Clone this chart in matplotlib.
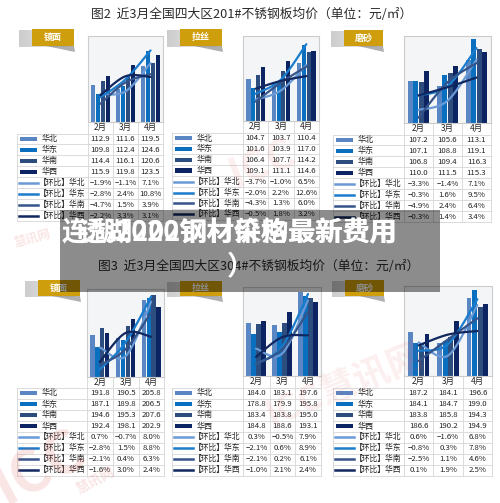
import numpy as np
import matplotlib.pyplot as plt
from matplotlib.patches import Rectangle, Polygon

plt.rcParams['font.family'] = ['Noto Sans CJK SC', 'DejaVu Sans']

W, H = 500, 503

months = ['2月', '3月', '4月']
regions = ['华北', '华东', '华南', '华西']
finishes = ['镜面', '拉丝', '磨砂']

# 201# 均价 (元/㎡): rows = 华北/华东/华南/华西, cols = 2月/3月/4月
p201_jm = [[112.9, 111.6, 119.5], [109.8, 112.4, 124.6], [114.4, 116.1, 120.6], [115.9, 119.8, 123.5]]
p201_ls = [[104.7, 103.7, 110.4], [101.6, 103.9, 117.0], [106.4, 107.7, 114.2], [109.1, 111.1, 114.6]]
p201_ms = [[107.2, 105.6, 113.1], [107.1, 108.8, 119.1], [106.8, 109.4, 116.3], [110.0, 111.5, 115.3]]
# 201# 环比 (%)
c201_jm = [[-1.9, -1.1, 7.1], [-2.8, 2.4, 10.8], [-4.7, 1.5, 3.9], [-2.2, 3.3, 3.1]]
c201_ls = [[-3.7, -1.0, 6.5], [-2.0, 2.2, 12.6], [-4.3, 1.3, 6.0], [-0.5, 1.8, 3.2]]
c201_ms = [[-3.3, -1.4, 7.1], [-0.3, 1.6, 9.5], [-4.9, 2.4, 6.4], [-0.3, 1.4, 3.4]]
# 304# 均价
p304_jm = [[191.8, 190.5, 205.8], [187.1, 189.8, 206.5], [194.6, 195.3, 207.6], [192.4, 198.1, 202.9]]
p304_ls = [[184.0, 183.1, 197.6], [178.8, 179.9, 195.8], [183.4, 183.8, 195.0], [184.8, 188.6, 193.1]]
p304_ms = [[187.2, 184.1, 196.6], [184.1, 184.7, 199.0], [183.8, 185.8, 194.3], [186.6, 190.2, 194.9]]
# 304# 环比
c304_jm = [[0.7, -0.7, 8.0], [-2.8, 1.5, 8.8], [-2.1, 0.4, 6.3], [-1.6, 3.0, 2.4]]
c304_ls = [[0.3, -0.5, 7.9], [-2.1, 0.6, 8.9], [-2.1, 0.2, 6.1], [-1.0, 2.1, 2.4]]
c304_ms = [[0.6, -1.6, 6.8], [-0.8, 0.3, 7.8], [-2.5, 1.1, 4.6], [0.1, 1.9, 2.5]]

title2 = '图2  近3月全国四大区201#不锈钢板均价（单位：元/㎡）'
title3 = '图3  近3月全国四大区304#不锈钢板均价（单位：元/㎡）'

bar_colors = ['#5a86c4', '#0b6fc0', '#2d4d7e', '#0c2461']
line_colors = ['#6a9ad6', '#1a7ccc', '#34548a', '#11275f']
grid_c = '#d6d6d6'
gold = '#cf9e0c'

fig = plt.figure(figsize=(5, 5.03), dpi=100)
bg = fig.add_axes([0, 0, 1, 1])
bg.set_xlim(0, W)
bg.set_ylim(H, 0)
bg.axis('off')


def fig_rect(x0, y0, x1, y1):
    return [x0 / W, 1 - y1 / H, (x1 - x0) / W, (y1 - y0) / H]


def smooth(xs, ys, n=30):
    """Catmull-Rom style bezier through the points (like excel smoothed lines)."""
    P = np.column_stack([xs, ys]).astype(float)
    ext = np.vstack([P[0], P, P[-1]])
    out = []
    for i in range(len(P) - 1):
        p0, p3 = ext[i + 1], ext[i + 2]
        p1 = p0 + (ext[i + 2] - ext[i]) / 6.0
        p2 = p3 - (ext[i + 3] - ext[i + 1]) / 6.0
        t = np.linspace(0, 1, n)[:, None]
        seg = (1 - t)**3 * p0 + 3 * (1 - t)**2 * t * p1 + 3 * (1 - t) * t**2 * p2 + t**3 * p3
        out.append(seg if i == 0 else seg[1:])
    out = np.vstack(out)
    return out[:, 0], out[:, 1]


def fmt_pct(v):
    s = '%.1f%%' % v
    return s.replace('-', '−')


def draw_panel(geo, prices, changes, ylim_p, ylim_c, label):
    x0, y0, x1, y1 = geo['plot']
    ax = fig.add_axes(fig_rect(x0, y0, x1, y1))
    ax.set_facecolor('#f4f5f7')
    x = np.arange(len(months))
    for j in range(len(regions)):
        ax.bar(x + (j - 1.5) * 0.19, prices[j], width=0.165, color=bar_colors[j], zorder=2)
    ax.set_xlim(-0.5, 2.5)
    ax.set_ylim(*ylim_p)
    ax.set_xticks([])
    ax.set_yticks([])
    for s in ax.spines.values():
        s.set_color('#cccccc')
        s.set_linewidth(0.8)
    ax2 = ax.twinx()
    for j in range(len(regions)):
        sx, sy = smooth(x, changes[j])
        ax2.plot(sx, sy, color=line_colors[j], lw=1.6, solid_capstyle='round', zorder=3)
    ax2.set_ylim(*ylim_c)
    ax2.axis('off')

    # table under the chart
    left = geo['left']
    cols = geo['cols']
    mbot = geo['mbot']
    rh = geo['rh']
    nrow = 8
    tb = mbot + nrow * rh
    for k in range(len(months)):
        bg.text((cols[k] + cols[k + 1]) / 2, (y1 + mbot) / 2, months[k], ha='center', va='center',
                fontsize=6, color='#222222')
    for c in cols:
        bg.plot([c, c], [y1, tb], color=grid_c, lw=0.6)
    bg.plot([left, left], [mbot, tb], color=grid_c, lw=0.6)
    for r in range(nrow + 1):
        bg.plot([left, cols[-1]], [mbot + r * rh] * 2, color=grid_c, lw=0.6)
    for i in range(nrow):
        cy = mbot + (i + 0.5) * rh
        if i < 4:
            bg.add_patch(Rectangle((left + 3, cy - 2.3), 17, 4.6, color=bar_colors[i], lw=0))
            bg.text(left + 25, cy, regions[i], ha='left', va='center', fontsize=5.8, color='#222222')
            vals = ['%.1f' % v for v in prices[i]]
        else:
            bg.plot([left + 2, left + 21], [cy, cy], color=line_colors[i - 4], lw=1.8)
            bg.text(left + 22, cy, '【环比】' + regions[i - 4], ha='left', va='center',
                    fontsize=5.6, color='#222222')
            vals = [fmt_pct(v) for v in changes[i - 4]]
        for k in range(len(months)):
            bg.text((cols[k] + cols[k + 1]) / 2, cy, vals[k], ha='center', va='center',
                    fontsize=5.6, color='#222222')

    # gold label with its shadow
    bx0, by0, bx1, by1 = geo['box']
    grad = np.linspace(1.0, 0.0, 50)[None, :]
    bg.imshow(grad, extent=(bx0 - 13, bx1 - 5, by1 + 1, by0 + 1), cmap='Greys', vmin=-1.2, vmax=6,
              aspect='auto', zorder=1)
    bg.add_patch(Polygon([(bx0 + 14, by1), (bx1, by1), (bx1 + 1, by1 + 6)], closed=True,
                         color='#7a7a7a', alpha=0.6, lw=0, zorder=1.5))
    bg.add_patch(Rectangle((bx0, by0), bx1 - bx0, by1 - by0, color=gold, lw=0, zorder=2))
    bg.text((bx0 + bx1) / 2, (by0 + by1) / 2, label, ha='center', va='center', fontsize=6.5,
            color='white', fontweight='bold', zorder=3)


geos = [
    dict(plot=(88, 36, 163, 122), left=17, cols=(88, 113, 138, 163), mbot=133.5, rh=10.95, box=(32, 29, 74, 46)),
    dict(plot=(243, 36, 319, 121), left=172, cols=(243, 268, 294, 319), mbot=132.6, rh=10.9, box=(180, 29, 222, 46)),
    dict(plot=(404, 36, 491, 123), left=333, cols=(404, 433, 462, 491), mbot=134.5, rh=10.95, box=(344, 30, 383, 46)),
    dict(plot=(87, 289, 164, 377), left=17, cols=(87, 113, 139, 164), mbot=387.5, rh=11.0, box=(38, 280, 80, 296)),
    dict(plot=(243, 287, 321, 376), left=172, cols=(243, 270, 295, 321), mbot=387.5, rh=11.0, box=(180, 281, 222, 296)),
    dict(plot=(404, 286, 492, 376), left=333, cols=(404, 433, 463, 492), mbot=387.5, rh=11.0, box=(345, 280, 384, 296)),
]

bg.text(252, 14, title2, ha='center', va='center', fontsize=9.2, color='#2b2b2b')
bg.text(259, 266, title3, ha='center', va='center', fontsize=9.2, color='#2b2b2b')

draw_panel(geos[0], p201_jm, c201_jm, (100, 130), (-10, 15), finishes[0])
draw_panel(geos[1], p201_ls, c201_ls, (90, 120), (-10, 15), finishes[1])
draw_panel(geos[2], p201_ms, c201_ms, (95, 120), (-6, 12), finishes[2])
draw_panel(geos[3], p304_jm, c304_jm, (175, 210), (-4, 10), finishes[0])
draw_panel(geos[4], p304_ls, c304_ls, (160, 200), (-4, 10), finishes[1])
draw_panel(geos[5], p304_ms, c304_ms, (175, 200), (-5, 10), finishes[2])

# overlay: watermarks and the gray caption banner
ov = fig.add_axes([0, 0, 1, 1])
ov.set_zorder(10)
ov.set_xlim(0, W)
ov.set_ylim(H, 0)
ov.axis('off')
ov.patch.set_alpha(0)

wm = '#e04848'
ov.text(40, 468, 'ICC', fontsize=42, fontweight='bold', color=wm, alpha=0.14, rotation=28,
        ha='center', va='center')
ov.text(95, 480, '慧讯网', fontsize=10, fontweight='bold', color=wm, alpha=0.14, rotation=28,
        ha='center', va='center')
ov.text(32, 238, '慧讯网', fontsize=9, fontweight='bold', color=wm, alpha=0.14, rotation=15,
        ha='center', va='center')
ov.text(262, 165, 'ICC', fontsize=30, fontweight='bold', color=wm, alpha=0.09, rotation=22,
        ha='center', va='center')
ov.text(345, 385, 'ICC慧讯网', fontsize=26, fontweight='bold', color=wm, alpha=0.09, rotation=22,
        ha='center', va='center')

ov.add_patch(Rectangle((60, 210), 380, 82, color='black', alpha=0.45, lw=0))
for s in ['连湖2020钢材价格最新费用', '透湖202钢材采购最新费用']:
    ov.text(397, 233, s, ha='right', va='center', fontsize=19.5, fontweight='bold', color='white')
ov.text(240, 266, '）', ha='center', va='center', fontsize=19.5, fontweight='bold', color='white')

fig.savefig('out.png', dpi=100)
